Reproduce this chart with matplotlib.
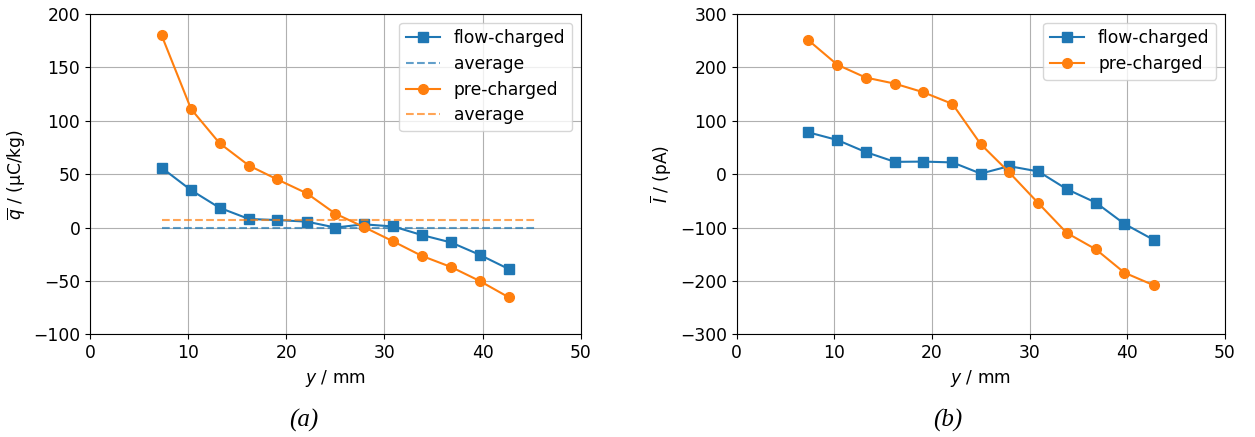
import matplotlib
matplotlib.use("Agg")
import matplotlib.pyplot as plt

# measurement positions (mm)
y_pos = [7.3, 10.3, 13.2, 16.2, 19.1, 22.1, 25.0, 27.9, 30.9, 33.8, 36.8, 39.7, 42.7]

# (a) specific charge, uC/kg
q_flow = [56, 35, 18.5, 8, 7, 5.5, 0, 3, 1, -7, -14, -25.5, -39]
q_pre = [180, 111, 79, 58, 45, 32, 13, 0.5, -13, -26.5, -37, -50, -65.5]
q_flow_avg = -0.7
q_pre_avg = 7.1
avg_span = [7.3, 45.5]

# (b) current, pA
i_flow = [78.5, 64, 41.5, 23, 23.5, 22, 1, 15, 5, -28, -53.5, -93, -123]
i_pre = [251.5, 205, 181, 169.5, 153.5, 131.5, 56, 3.5, -54.5, -110, -141, -184.5, -208]

blue = "#1f77b4"
orange = "#ff7f0e"

plt.rcParams["font.size"] = 12.3
plt.rcParams["legend.labelspacing"] = 0.45

fig = plt.figure(figsize=(12.55, 4.37), dpi=100)
ax1 = fig.add_axes([0.0717, 0.235, 0.391, 0.733])
ax2 = fig.add_axes([0.587, 0.235, 0.389, 0.733])

# left panel
ax1.plot(y_pos, q_flow, color=blue, marker="s", markersize=7, label="flow-charged")
ax1.plot(avg_span, [q_flow_avg, q_flow_avg], "--", color=blue, alpha=0.7, label="average")
ax1.plot(y_pos, q_pre, color=orange, marker="o", markersize=7, label="pre-charged")
ax1.plot(avg_span, [q_pre_avg, q_pre_avg], "--", color=orange, alpha=0.7, label="average")
ax1.set_xlim(0, 50)
ax1.set_ylim(-100, 200)
ax1.set_xlabel("$y$ / mm")
ax1.set_ylabel(r"$\overline{q}$ / (µC/kg)")
ax1.grid(True)
ax1.legend(loc="upper right")

# right panel
ax2.plot(y_pos, i_flow, color=blue, marker="s", markersize=7, label="flow-charged")
ax2.plot(y_pos, i_pre, color=orange, marker="o", markersize=7, label="pre-charged")
ax2.set_xlim(0, 50)
ax2.set_ylim(-300, 300)
ax2.set_xlabel("$y$ / mm")
ax2.set_ylabel(r"$\overline{I}$ / (pA)")
ax2.grid(True)
ax2.legend(loc="upper right")

# panel captions
fig.text(0.242, 0.038, "(a)", ha="center", va="center", fontsize=18,
         family="Liberation Serif", style="italic")
fig.text(0.755, 0.038, "(b)", ha="center", va="center", fontsize=18,
         family="Liberation Serif", style="italic")

fig.savefig("out.png", dpi=100)
